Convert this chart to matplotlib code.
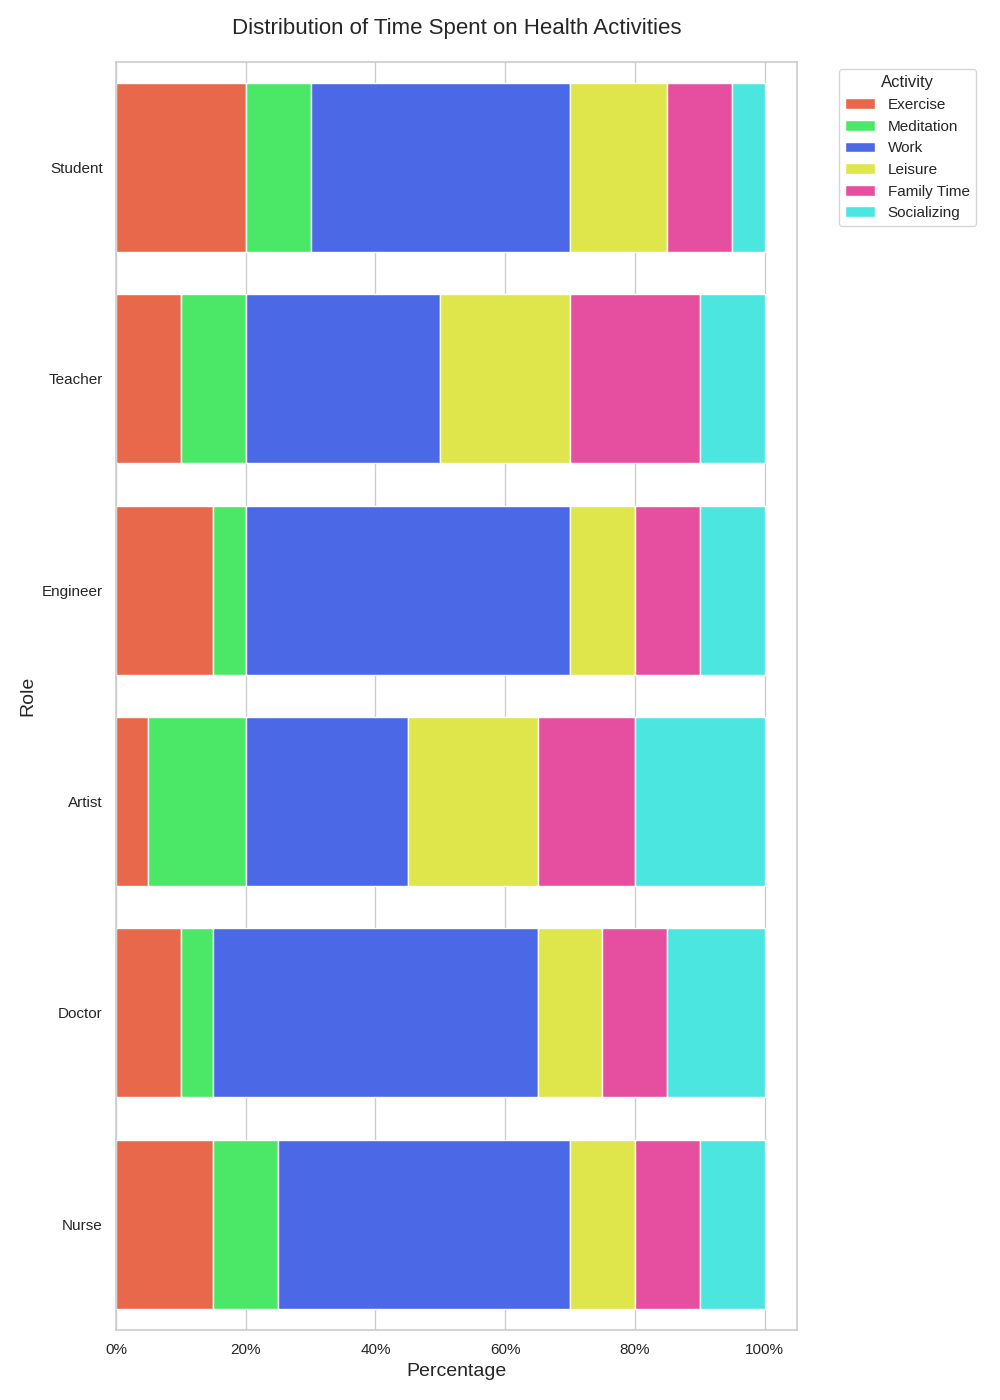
import matplotlib
matplotlib.use("Agg")
import matplotlib.pyplot as plt
import seaborn as sns
import numpy as np
from matplotlib.ticker import FuncFormatter

sns.set_theme(style="whitegrid")
plt.rcParams['font.family'] = ['Liberation Sans', 'DejaVu Sans']

roles = ["Student", "Teacher", "Engineer", "Artist", "Doctor", "Nurse"]
activities = ["Exercise", "Meditation", "Work", "Leisure", "Family Time", "Socializing"]
exercise = [20, 10, 15, 5, 10, 15]
meditation = [10, 10, 5, 15, 5, 10]
work = [40, 30, 50, 25, 50, 45]
leisure = [15, 20, 10, 20, 10, 10]
family_time = [10, 20, 10, 15, 10, 10]
socializing = [5, 10, 10, 20, 15, 10]
series = [exercise, meditation, work, leisure, family_time, socializing]
colors = ["#E8684C", "#4BE868", "#4B68E6", "#DEE64C", "#E64FA0", "#4BE6E0"]

fig = plt.figure(figsize=(10, 14), dpi=100)
ax = fig.add_axes([0.116, 0.05, 0.681, 0.906])

y = np.arange(len(roles))
left = np.zeros(len(roles))
for name, vals, c in zip(activities, series, colors):
    ax.barh(y, vals, left=left, height=0.8, color=c, edgecolor="white",
            linewidth=1, label=name, zorder=2)
    left += np.array(vals)

ax.set_yticks(y)
ax.set_yticklabels(roles, fontsize=11)
ax.set_ylim(len(roles) - 0.5, -0.5)
ax.set_xlim(0, 105)
ax.set_xticks([0, 20, 40, 60, 80, 100])
ax.xaxis.set_major_formatter(FuncFormatter(lambda v, p: f"{int(v)}%"))
ax.tick_params(axis='x', labelsize=11)
ax.grid(axis='y', visible=False)
ax.grid(axis='x', color="#cccccc", zorder=0)
ax.set_axisbelow(True)
for s in ax.spines.values():
    s.set_color("#cccccc")
    s.set_linewidth(1.2)

ax.set_xlabel("Percentage", fontsize=14)
ax.set_ylabel("Role", fontsize=14)
ax.set_title("Distribution of Time Spent on Health Activities", fontsize=16, pad=20)

leg = ax.legend(title="Activity", bbox_to_anchor=(1.05, 1.0), loc="upper left",
                fontsize=11, title_fontsize=12, frameon=True)

fig.savefig("out.png", dpi=100)
